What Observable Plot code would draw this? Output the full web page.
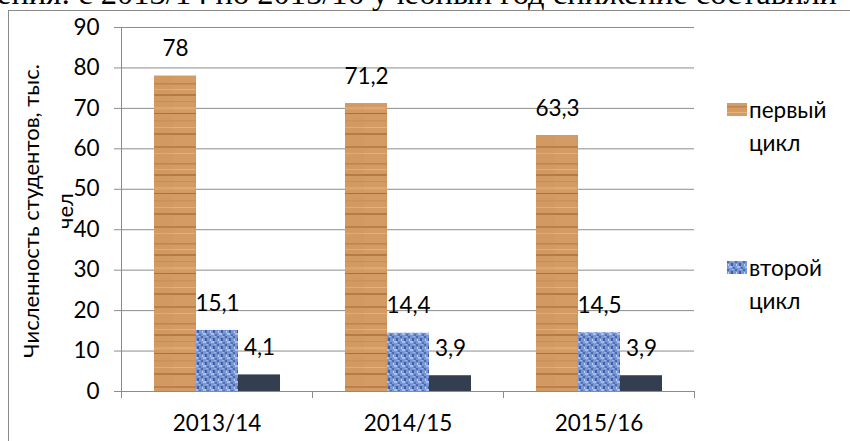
<!DOCTYPE html>
<html>
<head>
<meta charset="utf-8">
<script src="https://cdn.jsdelivr.net/npm/d3@7"></script>
<script src="https://cdn.jsdelivr.net/npm/@observablehq/plot@0.6"></script>
<style>
  html, body { margin: 0; padding: 0; background: #fff; }
  #wrap { position: relative; width: 850px; height: 441px; overflow: hidden; font-family: Lato, sans-serif; }
  #frame { position: absolute; left: 8px; top: 10px; width: 900px; height: 500px; border-left: 1px solid #8a8a8a; border-top: 1px solid #8a8a8a; }
  #head { position: absolute; left: -3px; top: -23px; font: 32.5px "Liberation Serif", serif; line-height: 32px; white-space: nowrap; color: #000; }
  #chart { position: absolute; left: 0; top: 0; }
  #ytitle { position: absolute; left: -117px; top: 177px; width: 330px; height: 68px; line-height: 34px; text-align: center; font-size: 22px; transform: rotate(-90deg); transform-origin: 50% 50%; color: #000; }
  .leg { position: absolute; font-size: 22.5px; line-height: 33px; color: #000; }
  .leg .sw { position: absolute; left: -22px; top: 10px; width: 20px; height: 13px; }
  .leg .tx { width: 95px; }
</style>
</head>
<body>
<svg width="0" height="0" style="position:absolute">
  <defs>
    <pattern id="wood" patternUnits="userSpaceOnUse" width="43" height="80">
      <rect width="43" height="80" fill="#D49B64"/>
      <rect y="3" width="43" height="1.5" fill="#B57A45" opacity="0.7"/>
      <rect y="9" width="43" height="1" fill="#E7B888" opacity="0.8"/>
      <rect y="14" width="43" height="2" fill="#9E6232" opacity="0.6"/>
      <rect y="21" width="43" height="1" fill="#C8884F" opacity="0.7"/>
      <rect y="27" width="43" height="2.5" fill="#E4B27F" opacity="0.6"/>
      <rect y="33" width="43" height="1" fill="#945A2B" opacity="0.7"/>
      <rect y="40" width="43" height="1.5" fill="#C98B52" opacity="0.6"/>
      <rect y="47" width="43" height="1" fill="#E9BC8C" opacity="0.7"/>
      <rect y="53" width="43" height="2" fill="#A86B38" opacity="0.7"/>
      <rect y="60" width="43" height="1" fill="#D29760" opacity="0.5"/>
      <rect y="66" width="43" height="2" fill="#A96C3B" opacity="0.6"/>
      <rect y="73" width="43" height="1" fill="#EABF90" opacity="0.6"/>
      <rect x="21" width="22" height="80" fill="#C48A55" opacity="0.12"/>
    </pattern>
    <pattern id="weave" patternUnits="userSpaceOnUse" width="8" height="8">
      <rect width="8" height="8" fill="#7896D4"/>
      <rect x="0" y="0" width="2" height="2" fill="#4A6BB3"/>
      <rect x="4" y="2" width="2" height="3" fill="#3E5FA6"/>
      <rect x="2" y="5" width="3" height="2" fill="#A9C1EE"/>
      <rect x="6" y="6" width="2" height="2" fill="#4E70B8"/>
      <rect x="1" y="3" width="1" height="2" fill="#C3D4F4"/>
      <rect x="5" y="0" width="2" height="1" fill="#9EB7E8"/>
    </pattern>
  </defs>
</svg>
<div id="wrap">
  <div id="frame"></div>
  <div id="head">ения: с 2013/14 по 2015/16 учебный год снижение составили</div>
  <div id="chart"></div>
  <div id="ytitle">Численность студентов, тыс.<br>чел</div>
  <div class="leg" style="left:749px; top:93px"><svg class="sw"><rect width="20" height="13" fill="url(#wood)"/></svg><div class="tx">первый цикл</div></div>
  <div class="leg" style="left:749px; top:251px"><svg class="sw"><rect width="20" height="13" fill="url(#weave)"/></svg><div class="tx">второй цикл</div></div>
</div>
<script>
const years = ["2013/14", "2014/15", "2015/16"];
const seriesNames = ["первый цикл", "второй цикл", "третий цикл"];
const firstCycle = [78, 71.2, 63.3];
const secondCycle = [15.1, 14.4, 14.5];
const thirdCycle = [4.1, 3.9, 3.9];
const yTicks = [0, 10, 20, 30, 40, 50, 60, 70, 80, 90];
const seriesFills = ["url(#wood)", "url(#weave)", "#333F50"];

const seriesValues = [firstCycle, secondCycle, thirdCycle];
const data = years.flatMap((year, i) =>
  seriesNames.map((s, j) => ({year, series: s, value: seriesValues[j][i]}))
);
const fmt = d => String(d.value).replace(".", ",");

const plot = Plot.plot({
  width: 850,
  height: 441,
  marginLeft: 120,
  marginRight: 155,
  marginTop: 27,
  marginBottom: 50,
  style: {fontFamily: "Lato, sans-serif", fontSize: "22px", color: "#000", background: "transparent", overflow: "visible"},
  fx: {domain: years, padding: 0, label: null},
  x: {domain: seriesNames, paddingInner: 0, paddingOuter: 0.75, axis: null},
  y: {domain: [0, 90], label: null},
  color: {domain: seriesNames, range: seriesFills},
  marks: [
    Plot.ruleY(yTicks, {stroke: "#8c8c8c", strokeWidth: 1, strokeOpacity: 1}),
    Plot.barY(data, {fx: "year", x: "series", y: "value", fill: "series"}),
    Plot.text(data, {fx: "year", x: "series", y: "value", text: fmt, dy: -27, fontSize: 22.5, fill: "#000"}),
    Plot.axisY({ticks: yTicks, tickSize: 7, tickPadding: 15, stroke: "#8c8c8c", fill: "#000", label: null, fontSize: 22.5}),
    Plot.axisFx({anchor: "bottom", tickSize: 0, tickPadding: 24, label: null, fontSize: 22.5, fill: "#000"})
  ]
});
document.getElementById("chart").appendChild(plot);

// axis line and category boundary ticks, from the plot's own scales
const fxs = plot.scale("fx");
const ys = plot.scale("y");
const svg = d3.select(plot);
const bounds = [fxs.apply(years[0]), ...years.map(y => fxs.apply(y) + fxs.bandwidth)];
const y0 = ys.apply(0), yTop = ys.apply(90);
svg.append("line")
  .attr("x1", bounds[0] + 0.5).attr("x2", bounds[0] + 0.5)
  .attr("y1", yTop).attr("y2", y0)
  .attr("stroke", "#8c8c8c");
svg.append("g").selectAll("line").data(bounds).join("line")
  .attr("x1", d => Math.round(d) + 0.5).attr("x2", d => Math.round(d) + 0.5)
  .attr("y1", y0).attr("y2", y0 + 7)
  .attr("stroke", "#8c8c8c");
</script>
</body>
</html>
